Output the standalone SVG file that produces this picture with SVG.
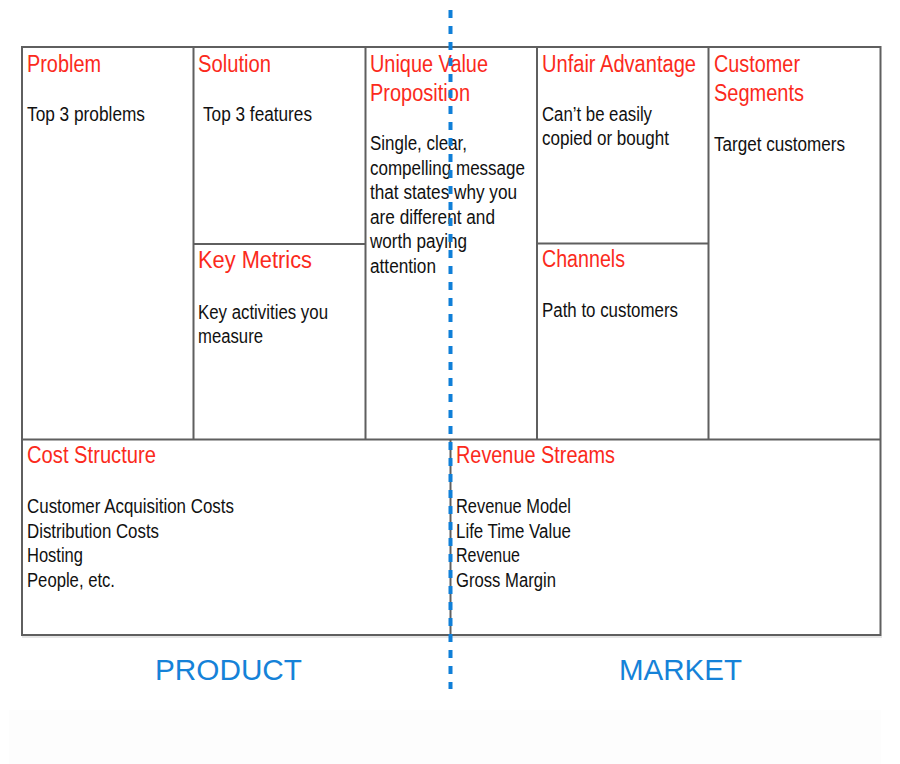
<svg xmlns="http://www.w3.org/2000/svg" width="900" height="764" viewBox="0 0 900 764">
<style>
.ln{stroke:#5f5f5f;stroke-width:2;fill:none}
.t{font-family:"Liberation Sans",Arial,sans-serif;font-size:23.5px;fill:#fb2a1c}
.b{font-family:"Liberation Sans",Arial,sans-serif;font-size:19.5px;fill:#111}
.m{font-family:"Liberation Sans",Arial,sans-serif;font-size:30px;fill:#1582d8}
</style>
<rect x="0" y="0" width="900" height="764" fill="#fff"/>
<rect x="9" y="710" width="872" height="54" fill="#fdfdfd"/>
<line x1="22" y1="637" x2="882" y2="637" stroke="#e6e6e6" stroke-width="2"/>
<g id="frame">
<rect class="ln" x="22" y="47" width="858.5" height="588"/>
<line class="ln" x1="22" y1="439.5" x2="880.5" y2="439.5"/>
<line class="ln" x1="193.5" y1="47" x2="193.5" y2="439.5"/>
<line class="ln" x1="365.5" y1="47" x2="365.5" y2="439.5"/>
<line class="ln" x1="537" y1="47" x2="537" y2="439.5"/>
<line class="ln" x1="708.5" y1="47" x2="708.5" y2="439.5"/>
<line class="ln" x1="193.5" y1="244" x2="365.5" y2="244"/>
<line class="ln" x1="537" y1="243.5" x2="708.5" y2="243.5"/>
<line class="ln" x1="450.5" y1="439.5" x2="450.5" y2="635"/>
</g>
<g id="problem">
<text class="t" x="27" y="72" textLength="74" lengthAdjust="spacingAndGlyphs">Problem</text>
<text class="b" x="27" y="121" textLength="118" lengthAdjust="spacingAndGlyphs">Top 3 problems</text>
</g>
<g id="solution">
<text class="t" x="198" y="72" textLength="73" lengthAdjust="spacingAndGlyphs">Solution</text>
<text class="b" x="203" y="121" textLength="109" lengthAdjust="spacingAndGlyphs">Top 3 features</text>
</g>
<g id="key-metrics">
<text class="t" x="198" y="268" textLength="114" lengthAdjust="spacingAndGlyphs">Key Metrics</text>
<text class="b" x="198" y="319" textLength="130" lengthAdjust="spacingAndGlyphs">Key activities you</text>
<text class="b" x="198" y="343" textLength="65" lengthAdjust="spacingAndGlyphs">measure</text>
</g>
<g id="uvp">
<text class="t" x="370" y="72" textLength="118" lengthAdjust="spacingAndGlyphs">Unique Value</text>
<text class="t" x="370" y="101" textLength="100" lengthAdjust="spacingAndGlyphs">Proposition</text>
<text class="b" x="370" y="150" textLength="97" lengthAdjust="spacingAndGlyphs">Single, clear,</text>
<text class="b" x="370" y="175" textLength="155" lengthAdjust="spacingAndGlyphs">compelling message</text>
<text class="b" x="370" y="199" textLength="147" lengthAdjust="spacingAndGlyphs">that states why you</text>
<text class="b" x="370" y="224" textLength="125" lengthAdjust="spacingAndGlyphs">are different and</text>
<text class="b" x="370" y="248" textLength="97" lengthAdjust="spacingAndGlyphs">worth paying</text>
<text class="b" x="370" y="273" textLength="66" lengthAdjust="spacingAndGlyphs">attention</text>
</g>
<g id="unfair-advantage">
<text class="t" x="542" y="72" textLength="154" lengthAdjust="spacingAndGlyphs">Unfair Advantage</text>
<text class="b" x="542" y="121" textLength="110" lengthAdjust="spacingAndGlyphs">Can’t be easily</text>
<text class="b" x="542" y="145" textLength="127" lengthAdjust="spacingAndGlyphs">copied or bought</text>
</g>
<g id="channels">
<text class="t" x="542" y="267" textLength="83" lengthAdjust="spacingAndGlyphs">Channels</text>
<text class="b" x="542" y="317" textLength="136" lengthAdjust="spacingAndGlyphs">Path to customers</text>
</g>
<g id="customer-segments">
<text class="t" x="714" y="72" textLength="86" lengthAdjust="spacingAndGlyphs">Customer</text>
<text class="t" x="714" y="101" textLength="90" lengthAdjust="spacingAndGlyphs">Segments</text>
<text class="b" x="714" y="151" textLength="131" lengthAdjust="spacingAndGlyphs">Target customers</text>
</g>
<g id="cost-structure">
<text class="t" x="27" y="463" textLength="129" lengthAdjust="spacingAndGlyphs">Cost Structure</text>
<text class="b" x="27" y="513" textLength="207" lengthAdjust="spacingAndGlyphs">Customer Acquisition Costs</text>
<text class="b" x="27" y="538" textLength="132" lengthAdjust="spacingAndGlyphs">Distribution Costs</text>
<text class="b" x="27" y="562" textLength="56" lengthAdjust="spacingAndGlyphs">Hosting</text>
<text class="b" x="27" y="587" textLength="88" lengthAdjust="spacingAndGlyphs">People, etc.</text>
</g>
<g id="revenue-streams">
<text class="t" x="456" y="463" textLength="159" lengthAdjust="spacingAndGlyphs">Revenue Streams</text>
<text class="b" x="456" y="513" textLength="115" lengthAdjust="spacingAndGlyphs">Revenue Model</text>
<text class="b" x="456" y="538" textLength="115" lengthAdjust="spacingAndGlyphs">Life Time Value</text>
<text class="b" x="456" y="562" textLength="64" lengthAdjust="spacingAndGlyphs">Revenue</text>
<text class="b" x="456" y="587" textLength="100" lengthAdjust="spacingAndGlyphs">Gross Margin</text>
</g>
<g id="labels">
<text class="m" x="155" y="680" textLength="147" lengthAdjust="spacingAndGlyphs">PRODUCT</text>
<text class="m" x="619" y="680" textLength="123" lengthAdjust="spacingAndGlyphs">MARKET</text>
</g>
<g id="connectors">
<line x1="450.5" y1="10" x2="450.5" y2="689" stroke="#0f7fd8" stroke-width="4" stroke-dasharray="8,8"/>
</g>
</svg>
